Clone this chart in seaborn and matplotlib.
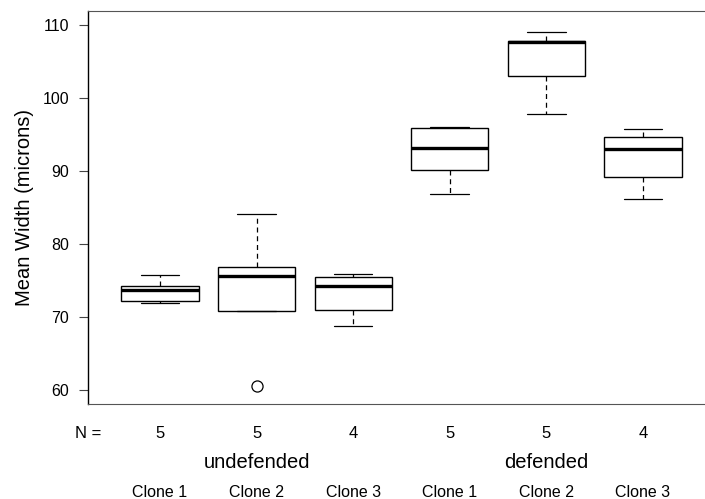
import matplotlib
matplotlib.use("Agg")
import matplotlib.pyplot as plt
import pandas as pd
import seaborn as sns

# five-number readouts (min, lower hinge, median, upper hinge, max) per clone
undef_clone1 = [71.9, 72.2, 73.7, 74.3, 75.7]
undef_clone2 = [60.5, 70.8, 75.6, 76.8, 84.1]
undef_clone3 = [68.7, 71.0, 74.3, 75.5, 75.9]
def_clone1 = [86.9, 90.1, 93.1, 95.9, 96.0]
def_clone2 = [97.8, 103.0, 107.7, 107.8, 109.1]
def_clone3 = [86.1, 89.2, 93.0, 94.7, 95.8]

clone_labels = ["Clone 1", "Clone 2", "Clone 3", "Clone 1", "Clone 2", "Clone 3"]
n_counts = [5, 5, 4, 5, 5, 4]
groups = ["undefended", "defended"]
yticks = [60, 70, 80, 90, 100, 110]

series = [undef_clone1, undef_clone2, undef_clone3,
          def_clone1, def_clone2, def_clone3]
keys = ["u1", "u2", "u3", "d1", "d2", "d3"]
rows = []
for k, vals in zip(keys, series):
    for v in vals:
        rows.append({"box": k, "width": v})
df = pd.DataFrame(rows)

sns.set_style("ticks")
plt.rcParams["font.family"] = ["Liberation Sans", "DejaVu Sans"]
plt.rcParams["text.color"] = "black"
plt.rcParams["axes.labelcolor"] = "black"
plt.rcParams["ytick.labelcolor"] = "black"

fig = plt.figure(figsize=(7.05, 4.99), dpi=100)
ax = fig.add_axes([88 / 705, 95 / 499, 617 / 705, 393 / 499])

sns.boxplot(data=df, x="box", y="width", order=keys, ax=ax, width=0.8,
            whis=1.5, capwidths=0.4,
            boxprops=dict(facecolor="white", edgecolor="black", linewidth=1.0),
            medianprops=dict(color="black", linewidth=2.4),
            whiskerprops=dict(color="black", linewidth=0.9, linestyle=(0, (4, 3))),
            capprops=dict(color="black", linewidth=0.9),
            flierprops=dict(marker="o", markerfacecolor="white",
                            markeredgecolor="black", markersize=8,
                            markeredgewidth=0.9))

ax.set_xlim(-0.745, 5.642)
ax.set_ylim(58.08, 111.92)
ax.set_yticks(yticks)
ax.set_yticklabels([str(t) for t in yticks], fontsize=11.5)
ax.tick_params(axis="y", direction="out", length=6.5, width=0.8,
               color="#444444", labelcolor="black", pad=7)
ax.tick_params(axis="x", length=0, labelbottom=False)
ax.set_xlabel("")
ax.set_ylabel("Mean Width (microns)", fontsize=14.5, labelpad=6.5)

ax.spines["right"].set_visible(False)
ax.spines["left"].set_color("black")
ax.spines["left"].set_linewidth(1.0)
for side in ["top", "bottom"]:
    ax.spines[side].set_color("#555555")
    ax.spines[side].set_linewidth(0.8)

# labels under the plot
tr = ax.get_xaxis_transform()
ax.text(-0.745, -0.0738, "N =", transform=tr, ha="center", va="center",
        fontsize=12)
for i, n in enumerate(n_counts):
    ax.text(i, -0.0738, str(n), transform=tr, ha="center", va="center",
            fontsize=12)
for i, g in enumerate(groups):
    ax.text(1 + 3 * i, -0.1476, g, transform=tr, ha="center", va="center",
            fontsize=14.5)
for i, lab in enumerate(clone_labels):
    ax.text(i, -0.224, lab, transform=tr, ha="center", va="center",
            fontsize=11.5)

fig.savefig("out.png", dpi=100)
